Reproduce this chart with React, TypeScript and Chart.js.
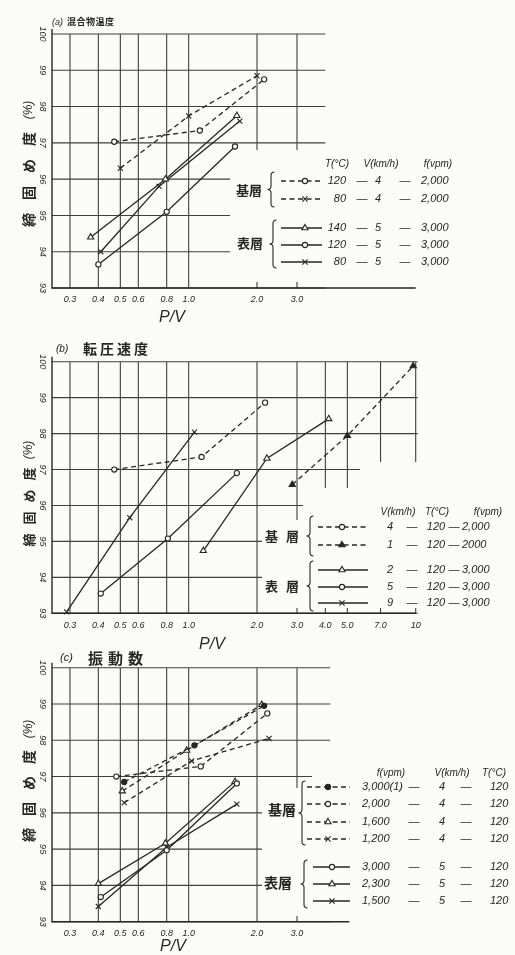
import React, { useEffect, useRef } from 'react';
import { Chart, registerables } from 'chart.js';

Chart.register(...registerables);

const W = 515;
const H = 955;
const INK = '#262626';
const GRID = '#3f3f3f';
const BG = '#fbfbf9';
const NUM_FONT = '"Liberation Sans", "DejaVu Sans", sans-serif';
const JP_FONT = '"Noto Sans CJK JP", sans-serif';

// ---------- shared axis data ----------
const Y_TICKS = [93, 94, 95, 96, 97, 98, 99, 100];
const X_TICKS_SHORT = [0.3, 0.4, 0.5, 0.6, 0.8, 1.0, 2.0, 3.0];
const X_LABELS_SHORT = ['0.3', '0.4', '0.5', '0.6', '0.8', '1.0', '2.0', '3.0'];
const X_TICKS_LONG = [0.3, 0.4, 0.5, 0.6, 0.8, 1.0, 2.0, 3.0, 4.0, 5.0, 7.0, 10];
const X_LABELS_LONG = ['0.3', '0.4', '0.5', '0.6', '0.8', '1.0', '2.0', '3.0', '4.0', '5.0', '7.0', '10'];

// ---------- (a) 混合物温度 ----------
const A_BASE_T120 = [[0.47, 97.03], [1.12, 97.34], [2.15, 98.75]];
const A_BASE_T80 = [[0.5, 96.3], [1.0, 97.74], [2.0, 98.85]];
const A_SURF_T140 = [[0.37, 94.4], [0.79, 96.0], [1.63, 97.75]];
const A_SURF_T120 = [[0.4, 93.65], [0.8, 95.1], [1.6, 96.9]];
const A_SURF_T80 = [[0.41, 94.0], [0.74, 95.8], [1.68, 97.6]];

// ---------- (b) 転圧速度 ----------
const B_BASE_V4 = [[0.47, 97.0], [1.14, 97.35], [2.17, 98.86]];
const B_BASE_V1 = [[2.86, 96.58], [5.0, 97.94], [9.75, 99.88]];
const B_SURF_V2 = [[1.16, 94.74], [2.21, 97.31], [4.14, 98.41]];
const B_SURF_V5 = [[0.41, 93.55], [0.81, 95.08], [1.63, 96.9]];
const B_SURF_V9 = [[0.29, 93.04], [0.55, 95.66], [1.06, 98.04]];

// ---------- (c) 振動数 ----------
const C_BASE_F3000 = [[0.52, 96.85], [1.06, 97.86], [2.15, 98.95]];
const C_BASE_F2000 = [[0.48, 97.0], [1.13, 97.28], [2.22, 98.74]];
const C_BASE_F1600 = [[0.51, 96.6], [0.98, 97.72], [2.1, 98.98]];
const C_BASE_F1200 = [[0.52, 96.28], [1.03, 97.43], [2.26, 98.05]];
const C_SURF_F3000 = [[0.41, 93.68], [0.8, 94.97], [1.63, 96.81]];
const C_SURF_F2300 = [[0.4, 94.05], [0.79, 95.16], [1.6, 96.86]];
const C_SURF_F1500 = [[0.4, 93.42], [0.8, 95.05], [1.63, 96.24]];

type Marker = 'circle' | 'dot' | 'tri' | 'triFill' | 'cross';
type Series = { pts: number[][]; dashed: boolean; marker: Marker };
type Row = { s: number; y: number; cells: string[] };
type Group = {
  label: string; labelX: number; labelY: number; labelSize: number; labelGap: number;
  braceX: number; braceY0: number; braceY1: number;
  lineX0: number; lineX1: number; markX: number; rows: Row[];
};
type Panel = {
  key: string;
  titleTag: string; titleText: string; titleX: number; titleJX: number; titleY: number;
  titleTagSize: number; titleSize: number; titleGap: number;
  top: number; bottom: number;
  gridXs: number[]; gridRight: number; axisRight: number;
  tickXs: number[]; tickLabels: string[]; tickLabelY: number;
  pvX: number; pvY: number;
  yTitleBottom: number; yTitleStep: number; yTitleSize: number;
  blanks: number[][];
  series: Series[];
  header: { t: string; x: number }[]; headerY: number;
  cellX: number[]; cellAlign: CanvasTextAlign[];
  groups: Group[];
};

const PANEL_A: Panel = {
  key: 'a',
  titleTag: '(a)', titleText: '混合物温度', titleX: 52, titleJX: 67, titleY: 22,
  titleTagSize: 9, titleSize: 9, titleGap: 0.5,
  top: 34, bottom: 288,
  gridXs: X_TICKS_SHORT, gridRight: 4.0, axisRight: 10,
  tickXs: X_TICKS_SHORT, tickLabels: X_LABELS_SHORT, tickLabelY: 299,
  pvX: 172, pvY: 318,
  yTitleBottom: 220, yTitleStep: 27, yTitleSize: 14,
  blanks: [[230, 150, 515, 282]],
  series: [
    { pts: A_BASE_T120, dashed: true, marker: 'circle' },
    { pts: A_BASE_T80, dashed: true, marker: 'cross' },
    { pts: A_SURF_T140, dashed: false, marker: 'tri' },
    { pts: A_SURF_T120, dashed: false, marker: 'circle' },
    { pts: A_SURF_T80, dashed: false, marker: 'cross' },
  ],
  header: [{ t: 'T(°C)', x: 337 }, { t: 'V(km/h)', x: 381 }, { t: 'f(vpm)', x: 438 }],
  headerY: 164,
  cellX: [346, 362, 378, 405, 421],
  cellAlign: ['right', 'center', 'center', 'center', 'left'],
  groups: [
    {
      label: '基層', labelX: 249, labelY: 190, labelSize: 13, labelGap: 0,
      braceX: 271, braceY0: 172, braceY1: 207, lineX0: 281, lineX1: 322, markX: 305,
      rows: [
        { s: 0, y: 181, cells: ['120', '—', '4', '—', '2,000'] },
        { s: 1, y: 199, cells: ['80', '—', '4', '—', '2,000'] },
      ],
    },
    {
      label: '表層', labelX: 250, labelY: 243, labelSize: 13, labelGap: 0,
      braceX: 273, braceY0: 220, braceY1: 268, lineX0: 281, lineX1: 322, markX: 305,
      rows: [
        { s: 2, y: 228, cells: ['140', '—', '5', '—', '3,000'] },
        { s: 3, y: 245, cells: ['120', '—', '5', '—', '3,000'] },
        { s: 4, y: 262, cells: ['80', '—', '5', '—', '3,000'] },
      ],
    },
  ],
};

const PANEL_B: Panel = {
  key: 'b',
  titleTag: '(b)', titleText: '転圧速度', titleX: 56, titleJX: 83, titleY: 349,
  titleTagSize: 10, titleSize: 14, titleGap: 3,
  top: 361.7, bottom: 613.3,
  gridXs: X_TICKS_LONG, gridRight: 10.2, axisRight: 10,
  tickXs: X_TICKS_LONG, tickLabels: X_LABELS_LONG, tickLabelY: 625,
  pvX: 212, pvY: 645,
  yTitleBottom: 540, yTitleStep: 22, yTitleSize: 13,
  blanks: [[360, 462, 515, 608], [303, 488, 515, 608], [262, 520, 515, 608]],
  series: [
    { pts: B_BASE_V4, dashed: true, marker: 'circle' },
    { pts: B_BASE_V1, dashed: true, marker: 'triFill' },
    { pts: B_SURF_V2, dashed: false, marker: 'tri' },
    { pts: B_SURF_V5, dashed: false, marker: 'circle' },
    { pts: B_SURF_V9, dashed: false, marker: 'cross' },
  ],
  header: [{ t: 'V(km/h)', x: 398 }, { t: 'T(°C)', x: 437 }, { t: 'f(vpm)', x: 488 }],
  headerY: 512,
  cellX: [390, 412, 436, 454, 462],
  cellAlign: ['center', 'center', 'center', 'center', 'left'],
  groups: [
    {
      label: '基層', labelX: 282, labelY: 536, labelSize: 13, labelGap: 8,
      braceX: 310, braceY0: 516, braceY1: 556, lineX0: 318, lineX1: 368, markX: 342,
      rows: [
        { s: 0, y: 527, cells: ['4', '—', '120', '—', '2,000'] },
        { s: 1, y: 545, cells: ['1', '—', '120', '—', '2000'] },
      ],
    },
    {
      label: '表層', labelX: 282, labelY: 586, labelSize: 13, labelGap: 8,
      braceX: 310, braceY0: 561, braceY1: 611, lineX0: 318, lineX1: 368, markX: 342,
      rows: [
        { s: 2, y: 570, cells: ['2', '—', '120', '—', '3,000'] },
        { s: 3, y: 587, cells: ['5', '—', '120', '—', '3,000'] },
        { s: 4, y: 603, cells: ['9', '—', '120', '—', '3,000'] },
      ],
    },
  ],
};

const PANEL_C: Panel = {
  key: 'c',
  titleTag: '(c)', titleText: '振動数', titleX: 60, titleJX: 88, titleY: 658,
  titleTagSize: 11, titleSize: 15, titleGap: 5,
  top: 667.7, bottom: 921.7,
  gridXs: X_TICKS_SHORT, gridRight: 4.2, axisRight: 5.1,
  tickXs: X_TICKS_SHORT, tickLabels: X_LABELS_SHORT, tickLabelY: 933,
  pvX: 173, pvY: 947,
  yTitleBottom: 835, yTitleStep: 26, yTitleSize: 14,
  blanks: [[312, 770, 515, 916], [262, 788, 515, 916]],
  series: [
    { pts: C_BASE_F3000, dashed: true, marker: 'dot' },
    { pts: C_BASE_F2000, dashed: true, marker: 'circle' },
    { pts: C_BASE_F1600, dashed: true, marker: 'tri' },
    { pts: C_BASE_F1200, dashed: true, marker: 'cross' },
    { pts: C_SURF_F3000, dashed: false, marker: 'circle' },
    { pts: C_SURF_F2300, dashed: false, marker: 'tri' },
    { pts: C_SURF_F1500, dashed: false, marker: 'cross' },
  ],
  header: [{ t: 'f(vpm)', x: 391 }, { t: 'V(km/h)', x: 452 }, { t: 'T(°C)', x: 494 }],
  headerY: 773,
  cellX: [362, 414, 442, 466, 490],
  cellAlign: ['left', 'center', 'center', 'center', 'left'],
  groups: [
    {
      label: '基層', labelX: 282, labelY: 810, labelSize: 14, labelGap: 0,
      braceX: 302, braceY0: 781, braceY1: 845, lineX0: 307, lineX1: 350, markX: 328,
      rows: [
        { s: 0, y: 787, cells: ['3,000(1)', '—', '4', '—', '120'] },
        { s: 1, y: 804, cells: ['2,000', '—', '4', '—', '120'] },
        { s: 2, y: 822, cells: ['1,600', '—', '4', '—', '120'] },
        { s: 3, y: 839, cells: ['1,200', '—', '4', '—', '120'] },
      ],
    },
    {
      label: '表層', labelX: 278, labelY: 883, labelSize: 14, labelGap: 0,
      braceX: 304, braceY0: 860, braceY1: 908, lineX0: 313, lineX1: 350, markX: 332,
      rows: [
        { s: 4, y: 867, cells: ['3,000', '—', '5', '—', '120'] },
        { s: 5, y: 884, cells: ['2,300', '—', '5', '—', '120'] },
        { s: 6, y: 901, cells: ['1,500', '—', '5', '—', '120'] },
      ],
    },
  ],
};

const PANELS: Panel[] = [PANEL_A, PANEL_B, PANEL_C];

const DASH = [5, 3.5];

function drawMarker(ctx: CanvasRenderingContext2D, m: Marker, x: number, y: number) {
  ctx.save();
  ctx.setLineDash([]);
  ctx.lineWidth = 1.1;
  ctx.strokeStyle = INK;
  if (m === 'circle' || m === 'dot') {
    ctx.beginPath();
    ctx.arc(x, y, 2.6, 0, Math.PI * 2);
    ctx.fillStyle = m === 'dot' ? INK : BG;
    ctx.fill();
    ctx.stroke();
  } else if (m === 'tri' || m === 'triFill') {
    const r = 3.6;
    ctx.beginPath();
    ctx.moveTo(x, y - r);
    ctx.lineTo(x + r * 0.866, y + r * 0.5);
    ctx.lineTo(x - r * 0.866, y + r * 0.5);
    ctx.closePath();
    ctx.fillStyle = m === 'triFill' ? INK : BG;
    ctx.fill();
    ctx.stroke();
  } else {
    const d = 2.6;
    ctx.beginPath();
    ctx.moveTo(x - d, y - d);
    ctx.lineTo(x + d, y + d);
    ctx.moveTo(x + d, y - d);
    ctx.lineTo(x - d, y + d);
    ctx.stroke();
  }
  ctx.restore();
}

function drawBrace(ctx: CanvasRenderingContext2D, x: number, y0: number, y1: number) {
  const ym = (y0 + y1) / 2;
  const w = 3.5;
  ctx.save();
  ctx.setLineDash([]);
  ctx.strokeStyle = INK;
  ctx.lineWidth = 1.1;
  ctx.beginPath();
  ctx.moveTo(x + w, y0);
  ctx.quadraticCurveTo(x, y0, x, y0 + w);
  ctx.lineTo(x, ym - w);
  ctx.quadraticCurveTo(x, ym, x - w, ym);
  ctx.quadraticCurveTo(x, ym, x, ym + w);
  ctx.lineTo(x, y1 - w);
  ctx.quadraticCurveTo(x, y1, x + w, y1);
  ctx.stroke();
  ctx.restore();
}

function drawSpaced(ctx: CanvasRenderingContext2D, text: string, x: number, y: number, gap: number) {
  let cx = x;
  for (const ch of Array.from(text)) {
    ctx.fillText(ch, cx, y);
    cx += ctx.measureText(ch).width + gap;
  }
}

function makePlugin(p: Panel) {
  return {
    id: 'panel_' + p.key,
    beforeDatasetsDraw(chart: any) {
      const ctx: CanvasRenderingContext2D = chart.ctx;
      const ca = chart.chartArea;
      const xs = chart.scales.x;
      const ys = chart.scales.y;
      ctx.save();
      ctx.setLineDash([]);
      // grid
      ctx.strokeStyle = GRID;
      ctx.lineWidth = 1.1;
      ctx.beginPath();
      for (const v of p.gridXs) {
        const px = xs.getPixelForValue(v);
        ctx.moveTo(px, ca.top);
        ctx.lineTo(px, ca.bottom);
      }
      const gr = xs.getPixelForValue(p.gridRight);
      for (const t of Y_TICKS) {
        const py = ys.getPixelForValue(t);
        ctx.moveTo(ca.left, py);
        ctx.lineTo(gr, py);
      }
      ctx.stroke();
      // areas left free for the legend
      ctx.fillStyle = BG;
      for (const b of p.blanks) ctx.fillRect(b[0], b[1], b[2] - b[0], b[3] - b[1]);
      // axes
      ctx.strokeStyle = INK;
      ctx.lineWidth = 1.4;
      ctx.beginPath();
      ctx.moveTo(ca.left, ca.top - 5);
      ctx.lineTo(ca.left, ca.bottom);
      ctx.lineTo(xs.getPixelForValue(p.axisRight), ca.bottom);
      ctx.stroke();
      ctx.restore();
    },
    afterDraw(chart: any) {
      const ctx: CanvasRenderingContext2D = chart.ctx;
      const xs = chart.scales.x;
      const ys = chart.scales.y;
      ctx.save();
      ctx.fillStyle = INK;
      ctx.setLineDash([]);

      // y tick labels (rotated)
      ctx.font = `italic 9px ${NUM_FONT}`;
      ctx.textAlign = 'center';
      ctx.textBaseline = 'middle';
      for (const t of Y_TICKS) {
        ctx.save();
        ctx.translate(42, ys.getPixelForValue(t));
        ctx.rotate(Math.PI / 2);
        ctx.fillText(String(t), 0, 0);
        ctx.restore();
      }

      // x tick labels
      ctx.font = `italic 9px ${NUM_FONT}`;
      for (let i = 0; i < p.tickXs.length; i++) {
        ctx.fillText(p.tickLabels[i], xs.getPixelForValue(p.tickXs[i]), p.tickLabelY);
      }

      // x title
      ctx.font = `italic 16px ${NUM_FONT}`;
      ctx.fillText('P/V', p.pvX, p.pvY);

      // y title (rotated, spaced characters)
      const yChars = ['締', '固', 'め', '度'];
      ctx.font = `bold ${p.yTitleSize}px ${JP_FONT}`;
      yChars.forEach((ch, i) => {
        ctx.save();
        ctx.translate(29, p.yTitleBottom - i * p.yTitleStep);
        ctx.rotate(-Math.PI / 2);
        ctx.fillText(ch, 0, 0);
        ctx.restore();
      });
      ctx.save();
      ctx.font = `italic 12px ${NUM_FONT}`;
      ctx.translate(29, p.yTitleBottom - 4 * p.yTitleStep - 2);
      ctx.rotate(-Math.PI / 2);
      ctx.fillText('(%)', 0, 0);
      ctx.restore();

      // panel title
      ctx.textAlign = 'left';
      ctx.font = `italic ${p.titleTagSize}px ${NUM_FONT}`;
      ctx.fillText(p.titleTag, p.titleX, p.titleY);
      ctx.font = `bold ${p.titleSize}px ${JP_FONT}`;
      drawSpaced(ctx, p.titleText, p.titleJX, p.titleY, p.titleGap);

      // legend header
      ctx.textAlign = 'center';
      ctx.font = `italic 10px ${NUM_FONT}`;
      for (const h of p.header) ctx.fillText(h.t, h.x, p.headerY);

      // legend groups
      for (const g of p.groups) {
        ctx.font = `bold ${g.labelSize}px ${JP_FONT}`;
        ctx.textAlign = 'left';
        const chars = Array.from(g.label);
        const tw = chars.reduce((a, c) => a + ctx.measureText(c).width, 0) + g.labelGap * (chars.length - 1);
        drawSpaced(ctx, g.label, g.labelX - tw / 2, g.labelY, g.labelGap);
        drawBrace(ctx, g.braceX, g.braceY0, g.braceY1);
        for (const r of g.rows) {
          const s = p.series[r.s];
          ctx.save();
          ctx.strokeStyle = INK;
          ctx.lineWidth = 1.3;
          ctx.setLineDash(s.dashed ? DASH : []);
          ctx.beginPath();
          ctx.moveTo(g.lineX0, r.y);
          ctx.lineTo(g.lineX1, r.y);
          ctx.stroke();
          ctx.restore();
          drawMarker(ctx, s.marker, g.markX, r.y);
          ctx.font = `italic 11px ${NUM_FONT}`;
          r.cells.forEach((c, i) => {
            ctx.textAlign = p.cellAlign[i];
            ctx.fillText(c, p.cellX[i], r.y);
          });
        }
      }
      ctx.restore();
    },
  };
}

function PanelChart({ p }: { p: Panel }) {
  const ref = useRef<HTMLCanvasElement>(null);
  useEffect(() => {
    const canvas = ref.current;
    if (!canvas) return;
    const datasets = p.series.map((s) => ({
      data: s.pts.map(([x, y]) => ({ x, y })),
      borderColor: INK,
      borderWidth: 1.3,
      borderDash: s.dashed ? DASH : [],
      pointStyle: s.marker === 'cross' ? 'crossRot' : s.marker === 'tri' || s.marker === 'triFill' ? 'triangle' : 'circle',
      pointRadius: s.marker === 'circle' || s.marker === 'dot' ? 2.6 : 3.6,
      pointBackgroundColor: s.marker === 'dot' || s.marker === 'triFill' ? INK : BG,
      pointBorderColor: INK,
      pointBorderWidth: 1.1,
      fill: false,
      tension: 0,
      clip: false as any,
    }));
    const chart = new Chart(canvas, {
      type: 'line',
      data: { datasets: datasets as any },
      options: {
        responsive: false,
        animation: false,
        devicePixelRatio: 1,
        layout: { padding: { left: 52, right: W - 415.7, top: p.top, bottom: H - p.bottom } },
        plugins: { legend: { display: false }, tooltip: { enabled: false }, title: { display: false } },
        scales: {
          x: { type: 'logarithmic', min: 0.25, max: 10, display: false },
          y: { type: 'linear', min: 93, max: 100, display: false },
        },
      },
      plugins: [makePlugin(p)],
    });
    return () => chart.destroy();
  }, [p]);
  return (
    <canvas
      ref={ref}
      width={W}
      height={H}
      style={{ position: 'absolute', left: 0, top: 0, width: W, height: H }}
    />
  );
}

export default function App() {
  return (
    <div style={{ position: 'absolute', left: 0, top: 0, width: W, height: H, background: BG, overflow: 'hidden' }}>
      {PANELS.map((p) => (
        <PanelChart key={p.key} p={p} />
      ))}
    </div>
  );
}
